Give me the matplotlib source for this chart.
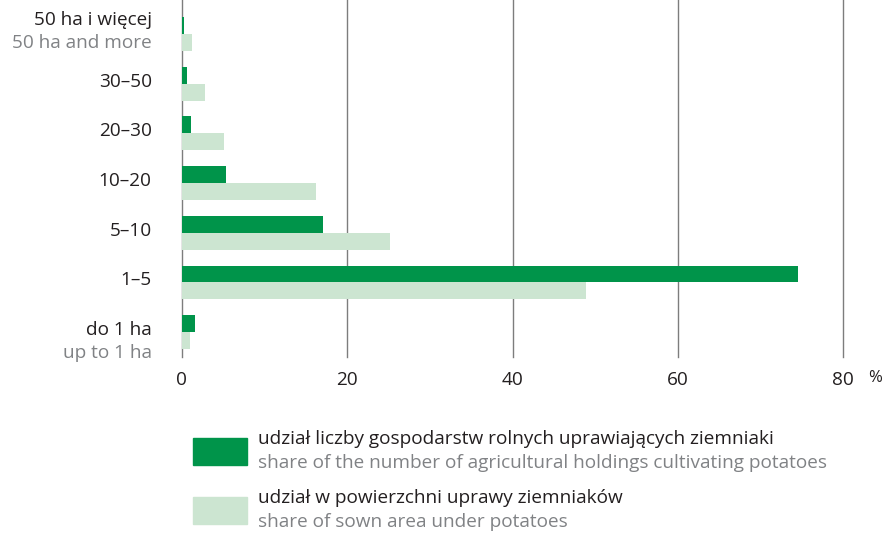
import matplotlib
matplotlib.use("Agg")
from matplotlib import pyplot as plt
from matplotlib.patches import Rectangle
import numpy as np

plt.rcParams['font.family'] = ['Open Sans', 'DejaVu Sans']

# categories from bottom to top
labels_pl = ["do 1 ha", "1–5", "5–10", "10–20", "20–30", "30–50", "50 ha i więcej"]
labels_en = ["up to 1 ha", "", "", "", "", "", "50 ha and more"]
holdings = [1.6, 74.5, 17.1, 5.3, 1.1, 0.6, 0.3]
area = [1.0, 48.9, 25.2, 16.2, 5.1, 2.8, 1.2]
xticks = [0, 20, 40, 60, 80]

legend_pl = ["udział liczby gospodarstw rolnych uprawiających ziemniaki",
             "udział w powierzchni uprawy ziemniaków"]
legend_en = ["share of the number of agricultural holdings cultivating potatoes",
             "share of sown area under potatoes"]

dark = "#00944a"
light = "#cce5d1"
black = "#231f20"
grey = "#808285"
fs = 13.7

W, H = 888, 533
fig = plt.figure(figsize=(W / 100, H / 100), dpi=100)
ax = fig.add_axes([181.7 / W, 1 - 357 / H, (843.3 - 181.7) / W, 357 / H])

y = np.arange(len(labels_pl))
bh = 0.34
ax.barh(y + bh / 2, holdings, height=bh, color=dark, zorder=3)
ax.barh(y - bh / 2, area, height=bh, color=light, zorder=3)

ax.set_xlim(0, 80)
ax.set_ylim(-0.5, 6.684)
for v in xticks:
    ax.axvline(v, color="#7d7d7d", lw=1, zorder=1, clip_on=False)
for s in ax.spines.values():
    s.set_visible(False)
ax.set_yticks([])
ax.set_xticks(xticks)
ax.tick_params(axis="x", length=0, pad=10, labelsize=fs, labelcolor=black)
ax.text(1.048, -0.06, "%", transform=ax.transAxes, fontsize=12, color=black,
        ha="center", va="center")

# category labels
for i in range(len(labels_pl)):
    if labels_en[i]:
        up = 14 if i == len(labels_pl) - 1 else 2
        ax.annotate(labels_pl[i], xy=(0, y[i]), xycoords=("axes fraction", "data"),
                    xytext=(-30 * 0.72, up * 0.72), textcoords="offset points",
                    ha="right", va="center", fontsize=fs, color=black)
        ax.annotate(labels_en[i], xy=(0, y[i]), xycoords=("axes fraction", "data"),
                    xytext=(-30 * 0.72, (up - 23) * 0.72), textcoords="offset points",
                    ha="right", va="center", fontsize=fs, color=grey)
    else:
        ax.annotate(labels_pl[i], xy=(0, y[i]), xycoords=("axes fraction", "data"),
                    xytext=(-30 * 0.72, 2 * 0.72), textcoords="offset points",
                    ha="right", va="center", fontsize=fs, color=black)

# legend
for k, (c, top) in enumerate([(dark, 438), (light, 497)]):
    fig.patches.append(Rectangle((193 / W, 1 - (top + 27) / H), 54 / W, 27 / H,
                                 transform=fig.transFigure, color=c))
    fig.text(258 / W, 1 - (top + 1) / H, legend_pl[k], fontsize=fs, color=black,
             va="center", ha="left")
    fig.text(258 / W, 1 - (top + 25) / H, legend_en[k], fontsize=fs, color=grey,
             va="center", ha="left")

fig.savefig("out.png", dpi=100)
